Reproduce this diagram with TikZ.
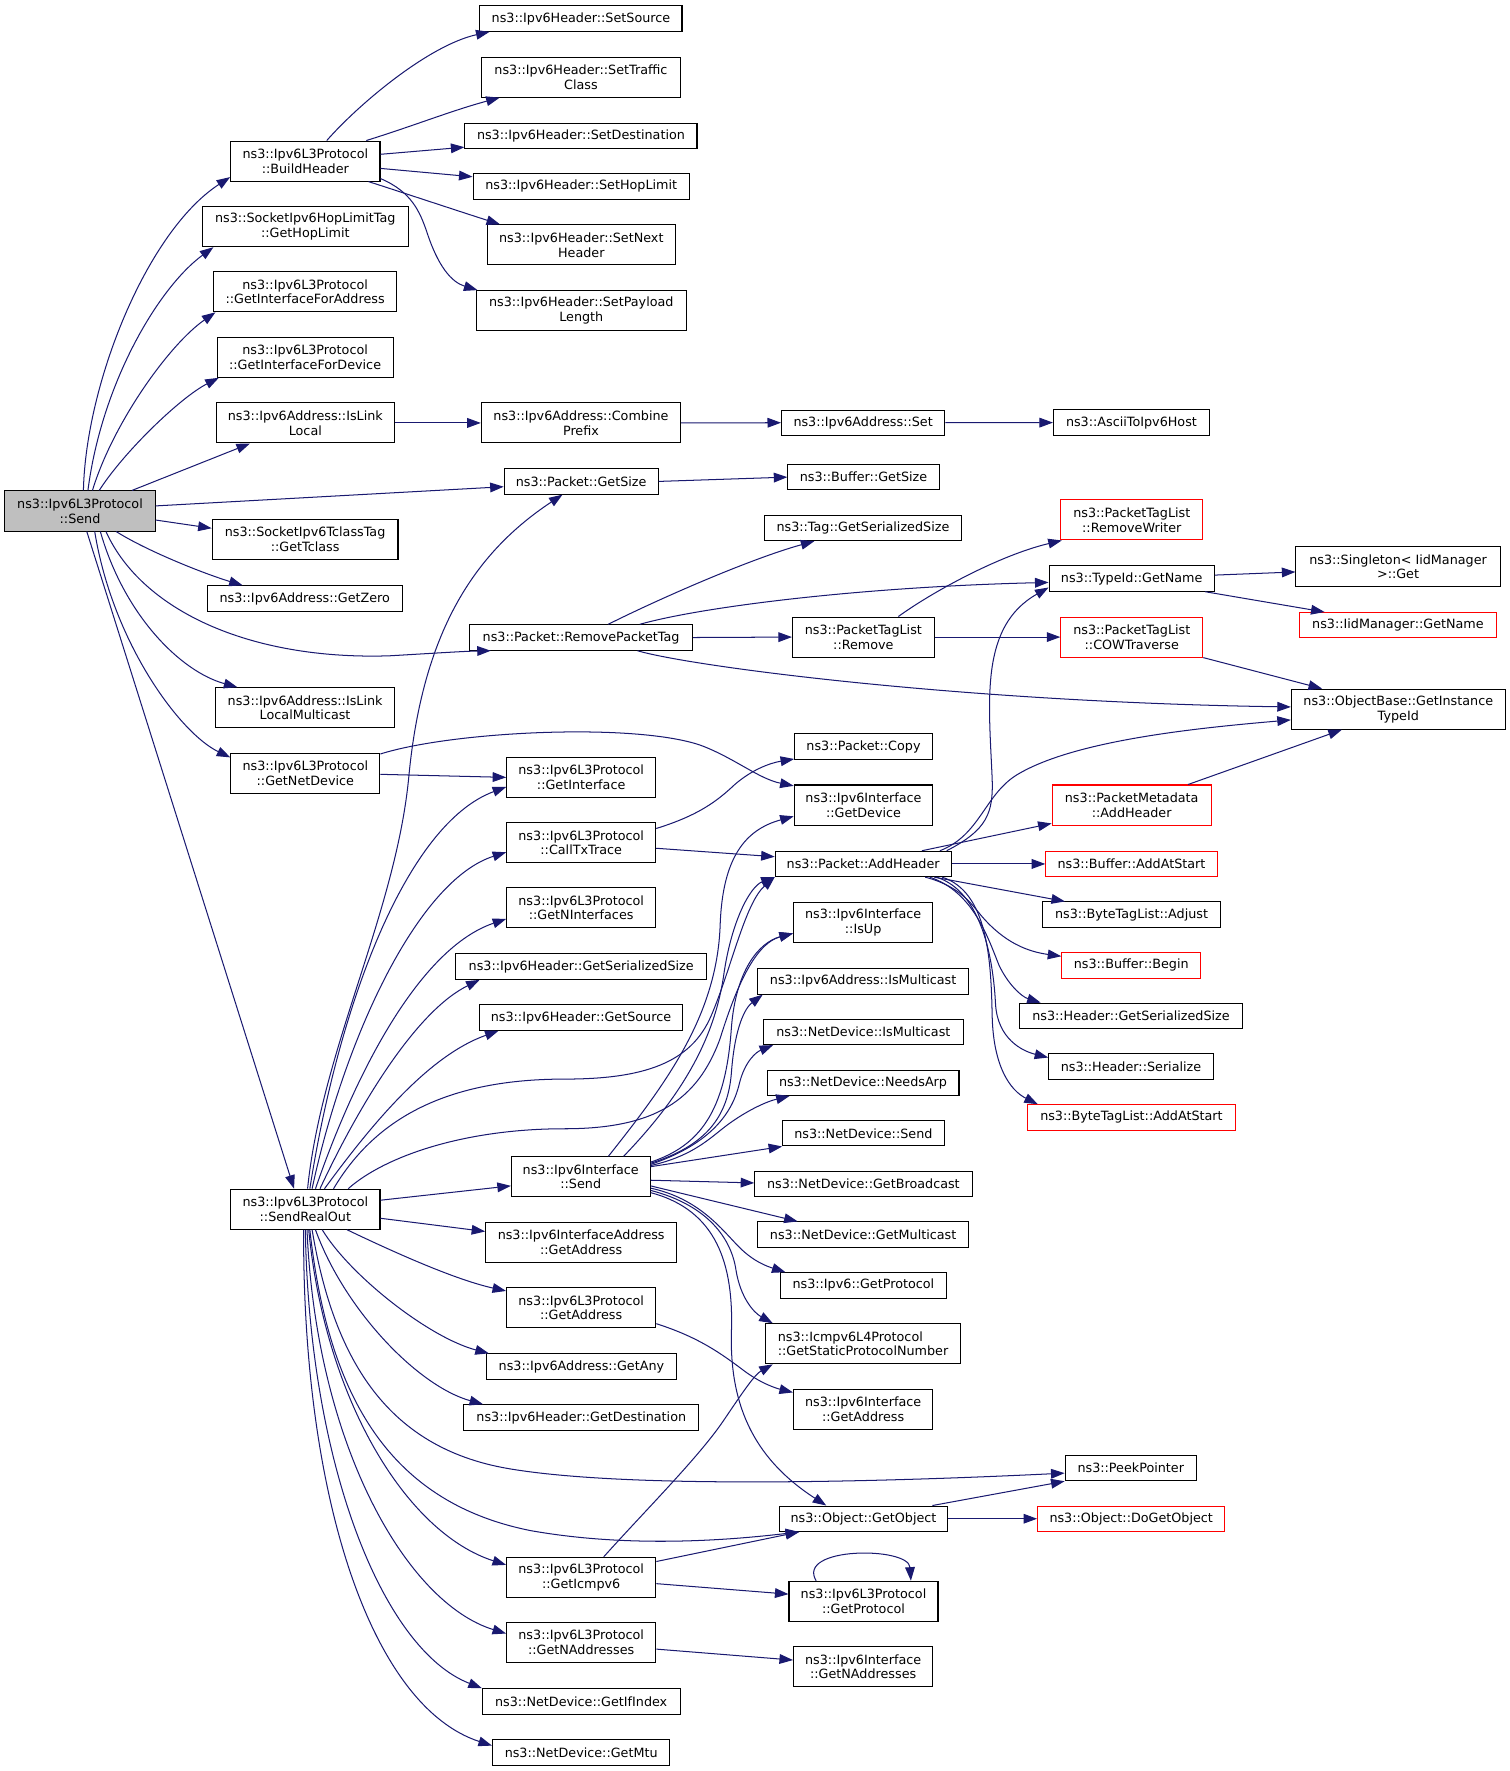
\documentclass[tikz,border=0pt]{standalone}
\usepackage{fontspec}
\setmainfont{DejaVu Sans}
\usetikzlibrary{arrows.meta}
\definecolor{edgec}{HTML}{191970}
\definecolor{sendgray}{HTML}{BFBFBF}
\newcommand\gvfont{\fontsize{11.3}{13}\selectfont}
\tikzset{
  box/.style={draw=black, fill=white, line width=0.9pt, inner sep=0pt, align=center, font=\gvfont, minimum height=22.5pt},
  boxtwo/.style={box, minimum height=35.5pt},
  redbox/.style={draw=red},
  e/.style={draw=edgec, line width=0.9pt, -{Triangle[length=12pt,width=8.6pt]}},
}
\begin{document}
\begin{tikzpicture}[x=1pt,y=-1pt]
\fill[white] (0,0) rectangle (1337,1569);
\useasboundingbox (0,0) rectangle (1337,1569);

% column 0
\node[boxtwo, fill=sendgray, minimum width=133pt] (send) at (70.9,452.7) {ns3::Ipv6L3Protocol\\::Send};

% column 1
\node[boxtwo, minimum width=132.3pt] (buildheader) at (270.5,142.7) {ns3::Ipv6L3Protocol\\::BuildHeader};
\node[boxtwo, minimum width=182pt] (hoplimit) at (270.5,200.8) {ns3::SocketIpv6HopLimitTag\\::GetHopLimit};
\node[boxtwo, minimum width=162pt] (ifaddr) at (270.3,258.5) {ns3::Ipv6L3Protocol\\::GetInterfaceForAddress};
\node[boxtwo, minimum width=156pt] (ifdev) at (270.3,316.5) {ns3::Ipv6L3Protocol\\::GetInterfaceForDevice};
\node[boxtwo, minimum width=158pt] (islinklocal) at (270.5,374.7) {ns3::Ipv6Address::IsLink\\Local};
\node[boxtwo, minimum width=164.6pt] (tclass) at (270.3,478) {ns3::SocketIpv6TclassTag\\::GetTclass};
\node[box, minimum width=172.6pt] (getzero) at (270,530.3) {ns3::Ipv6Address::GetZero};
\node[boxtwo, minimum width=158.5pt] (isllm) at (270.3,627) {ns3::Ipv6Address::IsLink\\LocalMulticast};
\node[boxtwo, minimum width=132pt] (getnetdev) at (270.5,685) {ns3::Ipv6L3Protocol\\::GetNetDevice};
\node[boxtwo, minimum width=132.3pt] (sro) at (270.5,1071.3) {ns3::Ipv6L3Protocol\\::SendRealOut};

% column 2
\node[box, minimum width=179pt] (setsource) at (514.7,16.5) {ns3::Ipv6Header::SetSource};
\node[boxtwo, minimum width=176.6pt] (settraffic) at (514.7,68.3) {ns3::Ipv6Header::SetTraffic\\Class};
\node[box, minimum width=205.6pt] (setdest) at (514.7,120.4) {ns3::Ipv6Header::SetDestination};
\node[box, minimum width=191.6pt] (sethop) at (514.9,165.1) {ns3::Ipv6Header::SetHopLimit};
\node[boxtwo, minimum width=166.7pt] (setnext) at (515,217) {ns3::Ipv6Header::SetNext\\Header};
\node[boxtwo, minimum width=185.6pt] (setpayload) at (515,275.2) {ns3::Ipv6Header::SetPayload\\Length};
\node[boxtwo, minimum width=176.6pt] (combine) at (514.7,374.7) {ns3::Ipv6Address::Combine\\Prefix};
\node[box, minimum width=136.3pt] (pgetsize) at (514.85,426.5) {ns3::Packet::GetSize};
\node[box, minimum width=197.6pt] (removept) at (514.8,564.8) {ns3::Packet::RemovePacketTag};
\node[boxtwo, minimum width=132pt] (l3getif) at (514.9,688.7) {ns3::Ipv6L3Protocol\\::GetInterface};
\node[boxtwo, minimum width=132pt] (calltx) at (514.9,746.5) {ns3::Ipv6L3Protocol\\::CallTxTrace};
\node[boxtwo, minimum width=132pt] (getnif) at (514.9,804.1) {ns3::Ipv6L3Protocol\\::GetNInterfaces};
\node[box, minimum width=222.4pt] (hgetser) at (514.9,856.4) {ns3::Ipv6Header::GetSerializedSize};
\node[box, minimum width=180pt] (hgetsrc) at (514.7,901.5) {ns3::Ipv6Header::GetSource};
\node[boxtwo, minimum width=122.9pt] (ifsend) at (514.5,1042.6) {ns3::Ipv6Interface\\::Send};
\node[boxtwo, minimum width=169.2pt] (iagetaddr) at (514.9,1100.8) {ns3::Ipv6InterfaceAddress\\::GetAddress};
\node[boxtwo, minimum width=132.2pt] (l3getaddr) at (514.9,1158.7) {ns3::Ipv6L3Protocol\\::GetAddress};
\node[box, minimum width=168pt] (getany) at (515.1,1210.7) {ns3::Ipv6Address::GetAny};
\node[box, minimum width=207.9pt] (getdest) at (515,1255.8) {ns3::Ipv6Header::GetDestination};
\node[boxtwo, minimum width=132.2pt] (geticmpv6) at (514.9,1397.4) {ns3::Ipv6L3Protocol\\::GetIcmpv6};
\node[boxtwo, minimum width=132.2pt] (getnaddr) at (514.9,1455.2) {ns3::Ipv6L3Protocol\\::GetNAddresses};
\node[box, minimum width=175.2pt] (getifindex) at (514.9,1507.3) {ns3::NetDevice::GetIfIndex};
\node[box, minimum width=157.2pt] (getmtu) at (514.9,1552.5) {ns3::NetDevice::GetMtu};

% column 3
\node[box, minimum width=144.6pt] (ipv6set) at (764.7,374.5) {ns3::Ipv6Address::Set};
\node[box, minimum width=134pt] (bgetsize) at (765,422.7) {ns3::Buffer::GetSize};
\node[box, minimum width=175pt] (taggetser) at (764.5,467.7) {ns3::Tag::GetSerializedSize};
\node[boxtwo, minimum width=125.7pt] (ptlremove) at (764.9,564.4) {ns3::PacketTagList\\::Remove};
\node[box, minimum width=122pt] (pcopy) at (765,661.4) {ns3::Packet::Copy};
\node[boxtwo, minimum width=122.8pt] (ifgetdev) at (765,713.2) {ns3::Ipv6Interface\\::GetDevice};
\node[box, minimum width=155.8pt] (addheader) at (764.7,765.4) {ns3::Packet::AddHeader};
\node[boxtwo, minimum width=123.4pt] (isup) at (764.7,817.4) {ns3::Ipv6Interface\\::IsUp};
\node[box, minimum width=187.4pt] (aismc) at (764.7,869.5) {ns3::Ipv6Address::IsMulticast};
\node[box, minimum width=177.8pt] (ndismc) at (764.9,914.2) {ns3::NetDevice::IsMulticast};
\node[box, minimum width=170pt] (needsarp) at (764.6,959.2) {ns3::NetDevice::NeedsArp};
\node[box, minimum width=143pt] (ndsend) at (764.9,1004) {ns3::NetDevice::Send};
\node[box, minimum width=192.5pt] (getbcast) at (764.9,1049) {ns3::NetDevice::GetBroadcast};
\node[box, minimum width=187.4pt] (getmcast) at (764.7,1093.8) {ns3::NetDevice::GetMulticast};
\node[box, minimum width=146.7pt] (v6getproto) at (764.9,1138.8) {ns3::Ipv6::GetProtocol};
\node[boxtwo, minimum width=172.8pt, align=left] (icmpnum) at (764.6,1190.5) {ns3::Icmpv6L4Protocol\\::GetStaticProtocolNumber};
\node[boxtwo, minimum width=123.4pt] (ifgetaddr) at (764.7,1248.6) {ns3::Ipv6Interface\\::GetAddress};
\node[box, minimum width=149.5pt] (getobject) at (765,1345.5) {ns3::Object::GetObject};
\node[boxtwo, minimum width=132pt] (l3getproto) at (765,1418.6) {ns3::Ipv6L3Protocol\\::GetProtocol};
\node[boxtwo, minimum width=123.4pt] (ifgetnaddr) at (764.7,1476.7) {ns3::Ipv6Interface\\::GetNAddresses};

% column 4
\node[box, minimum width=138.2pt] (ascii) at (1002.4,374.4) {ns3::AsciiToIpv6Host};
\node[boxtwo, redbox, minimum width=125.8pt] (removewriter) at (1002.7,460.6) {ns3::PacketTagList\\::RemoveWriter};
\node[box, minimum width=146.4pt] (typeidname) at (1002.6,512.5) {ns3::TypeId::GetName};
\node[boxtwo, redbox, minimum width=125.8pt] (cow) at (1002.7,564.4) {ns3::PacketTagList\\::COWTraverse};
\node[boxtwo, redbox, minimum width=141pt] (pmaddheader) at (1002.6,713.2) {ns3::PacketMetadata\\::AddHeader};
\node[box, redbox, minimum width=151.8pt] (baddatstart) at (1002.4,765.4) {ns3::Buffer::AddAtStart};
\node[box, minimum width=157pt] (btladjust) at (1002.5,810.3) {ns3::ByteTagList::Adjust};
\node[box, redbox, minimum width=123pt] (bbegin) at (1002.2,855.2) {ns3::Buffer::Begin};
\node[box, minimum width=197.8pt] (hgetserialized) at (1002,900) {ns3::Header::GetSerializedSize};
\node[box, minimum width=145.8pt] (hserialize) at (1002,944.9) {ns3::Header::Serialize};
\node[box, redbox, minimum width=183.7pt] (btladdatstart) at (1002.4,990) {ns3::ByteTagList::AddAtStart};
\node[box, minimum width=116.4pt] (peekpointer) at (1001.8,1300.6) {ns3::PeekPointer};
\node[box, redbox, minimum width=166pt] (dogetobject) at (1002.2,1345.5) {ns3::Object::DoGetObject};

% column 5
\node[boxtwo, minimum width=181pt] (singleton) at (1238.6,502.2) {ns3::Singleton< IidManager\\>::Get};
\node[box, redbox, minimum width=174pt] (iidgetname) at (1238.5,553.9) {ns3::IidManager::GetName};
\node[boxtwo, minimum width=189.5pt] (objectbase) at (1238.8,628.3) {ns3::ObjectBase::GetInstance\\TypeId};

% ---- edges from Send
\draw[e] ([xshift=3pt]send.north) .. controls (76,340) and (130,205) .. ([yshift=4pt]buildheader.south west);
\draw[e] ([xshift=7pt]send.north) .. controls (90,340) and (140,255) .. ([xshift=10pt]hoplimit.south west);
\draw[e] ([xshift=11pt]send.north) .. controls (100,375) and (150,305) .. ([xshift=2pt]ifaddr.south west);
\draw[e] ([xshift=17pt]send.north) .. controls (110,400) and (160,352) .. ([xshift=2pt]ifdev.south west);
\draw[e] ([xshift=46pt]send.north) -- ([xshift=-49pt]islinklocal.south);
\draw[e] ([yshift=4.5pt]send.east) -- ([yshift=-4.7pt]pgetsize.west);
\draw[e] ([yshift=-8pt]send.east) -- ([yshift=10pt]tclass.west);
\draw[e] ([xshift=32pt]send.south) .. controls (130,488) and (180,508) .. ([xshift=-55pt]getzero.north);
\draw[e] ([xshift=23pt]send.south) .. controls (125,540) and (220,585) .. (345,581) .. controls (380,579) and (410,577) .. ([xshift=-80pt]removept.south);
\draw[e] ([xshift=18pt]send.south) .. controls (110,545) and (160,595) .. ([xshift=-60pt]isllm.north);
\draw[e] ([xshift=13pt]send.south) .. controls (100,570) and (160,650) .. ([yshift=14pt]getnetdev.west);
\draw[e] ([xshift=6pt]send.south) -- ([xshift=-10pt]sro.north);

% ---- BuildHeader
\draw[e] ([xshift=19pt]buildheader.north) .. controls (318,92) and (380,40) .. ([xshift=-81pt]setsource.south);
\draw[e] ([xshift=54pt]buildheader.north) .. controls (365,112) and (400,98) .. ([xshift=-72pt]settraffic.south);
\draw[e] ([yshift=6pt]buildheader.east) -- ([yshift=-10pt]setdest.west);
\draw[e] ([yshift=-6.5pt]buildheader.east) -- ([yshift=8.5pt]sethop.west);
\draw[e] ([xshift=56pt]buildheader.south) .. controls (355,170) and (400,185) .. ([xshift=-72pt]setnext.north);
\draw[e] ([yshift=-15.5pt]buildheader.east) .. controls (365,170) and (372,188) .. (378,205) .. controls (388,236) and (400,250) .. ([xshift=-92pt]setpayload.north);

% ---- chains
\draw[e] (islinklocal.east) -- (combine.west);
\draw[e] (combine.east) -- (ipv6set.west);
\draw[e] (ipv6set.east) -- (ascii.west);
\draw[e] (pgetsize.east) -- (bgetsize.west);

% ---- RemovePacketTag
\draw[e] ([xshift=24pt]removept.north) .. controls (585,530) and (665,495) .. ([xshift=-43pt]taggetser.south);
\draw[e] ([xshift=52pt]removept.north) .. controls (620,538) and (760,520) .. ([yshift=-3.5pt]typeidname.west);
\draw[e] (removept.east) -- (ptlremove.west);
\draw[e] ([xshift=50pt]removept.south) .. controls (610,590) and (850,622) .. ([yshift=2pt]objectbase.west);

\draw[e] ([xshift=31pt]ptlremove.north) .. controls (825,525) and (885,492) .. ([xshift=-62pt]removewriter.south);
\draw[e] (ptlremove.east) -- (cow.west);
\draw[e] ([yshift=3pt]typeidname.east) -- ([yshift=-4.5pt]singleton.west);
\draw[e] ([xshift=65pt]typeidname.south) -- ([xshift=-65pt]iidgetname.north);
\draw[e] (cow.south east) -- ([xshift=-67.5pt]objectbase.north);
\draw[e] ([xshift=50pt]pmaddheader.north) -- ([xshift=-50pt]objectbase.south);

% ---- GetNetDevice
\draw[e] ([yshift=-1pt]getnetdev.east) -- (l3getif.west);
\draw[e] ([yshift=17pt]getnetdev.east) .. controls (400,648) and (560,640) .. (620,660) .. controls (650,671) and (672,690) .. ([yshift=17pt]ifgetdev.west);

% ---- CallTxTrace
\draw[e] ([yshift=12.5pt]calltx.east) .. controls (620,722) and (636,709) .. (651,695) .. controls (666,682) and (682,676) .. ([yshift=-11pt]pcopy.west);
\draw[e] ([yshift=-5pt]calltx.east) -- ([yshift=6.4pt]addheader.west);

% ---- AddHeader
\draw[e] ([xshift=74pt]addheader.north) .. controls (875,735) and (880,720) .. (879,690) .. controls (876,620) and (868,555) .. ([yshift=-8pt]typeidname.west);
\draw[e] ([xshift=68pt]addheader.north) .. controls (868,740) and (872,705) .. (900,687) .. controls (950,656) and (1060,645) .. ([yshift=-9.5pt]objectbase.west);
\draw[e] ([xshift=52pt]addheader.north) -- ([yshift=-16.3pt]pmaddheader.west);
\draw[e] (addheader.east) -- (baddatstart.west);
\draw[e] ([xshift=63pt]addheader.south) -- ([xshift=-59pt]btladjust.north);
\draw[e] ([xshift=55pt]addheader.south) .. controls (850,785) and (860,800) .. (870,812) .. controls (890,835) and (910,843) .. ([yshift=8pt]bbegin.west);
\draw[e] ([xshift=59pt]addheader.south) .. controls (862,790) and (875,830) .. (885,855) .. controls (893,872) and (905,883) .. ([xshift=-80pt]hgetserialized.north);
\draw[e] ([xshift=65pt]addheader.south) .. controls (870,790) and (880,850) .. (882,890) .. controls (884,920) and (905,931) .. ([yshift=8pt]hserialize.west);
\draw[e] ([xshift=70pt]addheader.south) .. controls (875,790) and (878,850) .. (879,900) .. controls (880,945) and (895,966) .. ([xshift=-83pt]btladdatstart.north);

% ---- SendRealOut
\draw[e] ([xshift=2pt]sro.north) .. controls (285,930) and (350,810) .. (362,690) .. controls (374,560) and (420,490) .. ([xshift=-16.5pt]pgetsize.south);
\draw[e] ([xshift=4pt]sro.north) .. controls (300,890) and (360,730) .. ([yshift=-8.5pt]l3getif.west);
\draw[e] ([xshift=6pt]sro.north) .. controls (305,920) and (370,780) .. ([yshift=-8.5pt]calltx.west);
\draw[e] ([xshift=9pt]sro.north) .. controls (315,950) and (372,840) .. ([yshift=-10pt]getnif.west);
\draw[e] ([xshift=13pt]sro.north) .. controls (320,975) and (370,895) .. ([xshift=-90pt]hgetser.south);
\draw[e] ([xshift=17pt]sro.north) .. controls (330,995) and (380,935) .. ([xshift=-73pt]hgetsrc.south);
\draw[e] ([xshift=25pt]sro.north) .. controls (330,995) and (390,956) .. (500,956) .. controls (570,956) and (612,942) .. (630,900) .. controls (648,858) and (660,800) .. (addheader.south west);
\draw[e] ([xshift=38pt]sro.north) .. controls (340,1025) and (410,1000) .. (500,1000) .. controls (580,1000) and (618,975) .. (638,920) .. controls (655,865) and (672,835) .. ([yshift=-9.5pt]isup.west);
\draw[e] ([yshift=8pt]sro.east) -- ([yshift=-8pt]ifsend.west);
\draw[e] ([yshift=-8pt]sro.east) -- ([yshift=9.8pt]iagetaddr.west);
\draw[e] ([xshift=37pt]sro.south) .. controls (340,1105) and (400,1133) .. ([yshift=15pt]l3getaddr.west);
\draw[e] ([xshift=15pt]sro.south) .. controls (310,1130) and (380,1185) .. ([xshift=-82pt]getany.north);
\draw[e] ([xshift=9pt]sro.south) .. controls (305,1160) and (370,1228) .. ([xshift=-87pt]getdest.north);
\draw[e] ([xshift=6pt]sro.south) .. controls (295,1200) and (340,1282) .. (450,1301) .. controls (560,1320) and (800,1312) .. ([yshift=-4.5pt]peekpointer.west);
\draw[e] ([xshift=4pt]sro.south) .. controls (290,1230) and (340,1330) .. (470,1356) .. controls (560,1372) and (650,1364) .. ([xshift=-57pt]getobject.south);
\draw[e] ([xshift=3pt]sro.south) .. controls (288,1240) and (360,1358) .. ([yshift=11pt]geticmpv6.west);
\draw[e] ([xshift=1.5pt]sro.south) .. controls (280,1280) and (360,1420) .. ([yshift=8pt]getnaddr.west);
\draw[e] (sro.south) .. controls (274,1300) and (340,1462) .. ([xshift=-88pt]getifindex.north);
\draw[e] ([xshift=-1.5pt]sro.south) .. controls (268,1330) and (330,1512) .. ([yshift=6pt]getmtu.west);

% ---- Ipv6Interface::Send
\draw[e] ([xshift=24.5pt]ifsend.north) .. controls (590,960) and (635,900) .. (638,820) .. controls (640,760) and (660,735) .. ([yshift=-10pt]ifgetdev.west);
\draw[e] ([xshift=38pt]ifsend.north) .. controls (600,975) and (632,925) .. (641,865) .. controls (648,815) and (665,785) .. (addheader.south west);
\draw[e] ([yshift=13pt]ifsend.east) .. controls (620,1015) and (643,985) .. (648,910) .. controls (652,860) and (672,835) .. ([yshift=-9.5pt]isup.west);
\draw[e] ([yshift=12pt]ifsend.east) .. controls (625,1015) and (645,990) .. (648,950) .. controls (651,910) and (660,893) .. ([xshift=-89pt]aismc.south);
\draw[e] ([yshift=11pt]ifsend.east) .. controls (625,1015) and (648,990) .. (655,960) .. controls (660,940) and (670,932) .. ([xshift=-80pt]ndismc.south);
\draw[e] ([yshift=10pt]ifsend.east) .. controls (610,1025) and (625,1012) .. (640,1000) .. controls (655,988) and (675,977) .. ([xshift=-65pt]needsarp.south);
\draw[e] ([yshift=9pt]ifsend.east) -- (ndsend.south west);
\draw[e] ([yshift=-3pt]ifsend.east) -- ([yshift=1pt]getbcast.west);
\draw[e] ([yshift=-8pt]ifsend.east) -- ([xshift=-58pt]getmcast.north);
\draw[e] ([yshift=-10pt]ifsend.east) .. controls (620,1062) and (640,1090) .. (655,1105) .. controls (668,1118) and (680,1122) .. ([xshift=-69pt]v6getproto.north);
\draw[e] ([yshift=-12pt]ifsend.east) .. controls (628,1068) and (648,1098) .. (652,1125) .. controls (656,1150) and (668,1163) .. ([xshift=-80pt]icmpnum.north);
\draw[e] ([yshift=-14pt]ifsend.east) .. controls (635,1072) and (650,1120) .. (648,1180) .. controls (646,1250) and (672,1295) .. ([xshift=-33pt]getobject.north);

% ---- others
\draw[e] ([yshift=-14pt]l3getaddr.east) .. controls (620,1185) and (640,1200) .. (660,1215) .. controls (675,1226) and (688,1230) .. ([yshift=15pt]ifgetaddr.west);
\draw[e] ([xshift=20pt]geticmpv6.north) .. controls (570,1340) and (618,1292) .. (640,1260) .. controls (655,1238) and (668,1218) .. ([xshift=-80pt]icmpnum.south);
\draw[e] ([yshift=14pt]geticmpv6.east) -- ([xshift=-57pt]getobject.south);
\draw[e] ([yshift=-5.6pt]geticmpv6.east) -- ([yshift=6.3pt]l3getproto.west);
\draw[e] ([xshift=-42pt]l3getproto.north) .. controls (705,1370) and (805,1370) .. ([xshift=42pt]l3getproto.north);
\draw[e] ([yshift=-5.8pt]getnaddr.east) -- ([yshift=6pt]ifgetnaddr.west);
\draw[e] ([xshift=61pt]getobject.north) -- (peekpointer.south west);
\draw[e] (getobject.east) -- (dogetobject.west);
\end{tikzpicture}
\end{document}
